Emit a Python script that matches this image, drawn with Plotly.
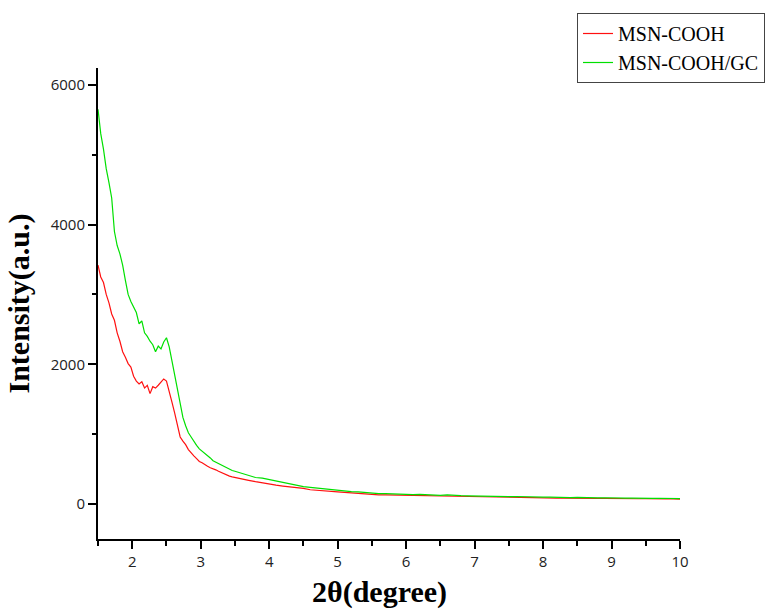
import plotly.graph_objects as go

# 2-theta positions (degree)
x_fine = [1.50, 1.54, 1.58, 1.62, 1.66, 1.70, 1.74, 1.78, 1.82, 1.86, 1.90, 1.94, 1.98,
          2.02, 2.06, 2.10, 2.14, 2.18, 2.22, 2.26, 2.30, 2.34, 2.38, 2.42, 2.46, 2.50,
          2.54, 2.58, 2.62, 2.66, 2.70, 2.74, 2.78, 2.82, 2.86, 2.90, 2.94, 2.98, 3.02,
          3.06, 3.10, 3.14, 3.18, 3.22, 3.26, 3.30, 3.34, 3.38, 3.42, 3.46, 3.50]
x_tail = [3.6, 3.7, 3.8, 3.9, 4.0, 4.1, 4.2, 4.3, 4.4, 4.5, 4.6, 4.7, 4.8, 4.9, 5.0,
          5.1, 5.2, 5.3, 5.4, 5.5, 5.6, 5.7, 5.8, 5.9, 6.0, 6.1, 6.2, 6.3, 6.4, 6.5,
          6.6, 6.7, 6.8, 6.9, 7.0, 7.1, 7.2, 7.3, 7.4, 7.5, 7.6, 7.7, 7.8, 7.9, 8.0,
          8.1, 8.2, 8.3, 8.4, 8.5, 8.6, 8.7, 8.8, 8.9, 9.0, 9.1, 9.2, 9.3, 9.4, 9.5,
          9.6, 9.7, 9.8, 9.9, 10.0]
two_theta = x_fine + x_tail

msn_cooh = [3420, 3250, 3170, 3000, 2880, 2720, 2630, 2450, 2330, 2180, 2100, 2010, 1960,
            1830, 1760, 1720, 1750, 1660, 1700, 1580, 1680, 1660, 1700, 1750, 1790, 1760,
            1620, 1460, 1300, 1120, 960, 900, 850, 780, 730, 690, 650, 610, 590,
            560, 540, 520, 510, 490, 470, 450, 430, 410, 400, 390, 380,
            355, 340, 320, 300, 280, 270, 258, 250, 235, 225, 205, 200, 190, 180, 175,
            168, 160, 150, 145, 138, 132, 130, 128, 125, 122, 120, 118, 115, 118, 112,
            110, 108, 106, 104, 100, 102, 98, 96, 95, 90, 93, 90, 88, 90, 86,
            88, 85, 86, 83, 85, 82, 84, 80, 82, 79, 80, 77, 79, 76, 78,
            74, 76, 73, 75, 72]

msn_cooh_gc = [5650, 5300, 5080, 4800, 4600, 4380, 3900, 3700, 3580, 3420, 3200, 3000, 2900,
               2820, 2740, 2580, 2620, 2450, 2400, 2330, 2280, 2180, 2260, 2220, 2320, 2380,
               2250, 2050, 1850, 1640, 1420, 1240, 1120, 1020, 960, 890, 840, 790, 760,
               720, 690, 660, 620, 600, 580, 560, 530, 520, 500, 480, 470,
               440, 420, 380, 370, 350, 320, 300, 280, 260, 250, 240, 230, 220, 205, 195,
               180, 178, 175, 165, 160, 150, 150, 145, 140, 140, 135, 138, 130, 128, 125,
               130, 122, 120, 118, 115, 112, 115, 110, 108, 106, 108, 104, 100, 102, 98,
               100, 95, 96, 92, 95, 90, 92, 88, 90, 86, 88, 84, 86, 82, 85,
               80, 83, 79, 81, 78]

x_ticks = [2, 3, 4, 5, 6, 7, 8, 9, 10]
y_ticks = [0, 2000, 4000, 6000]

fig = go.Figure()
fig.add_trace(go.Scatter(x=two_theta, y=msn_cooh, mode="lines", name="MSN-COOH",
                         line=dict(color="#FF1010", width=1.2)))
fig.add_trace(go.Scatter(x=two_theta, y=msn_cooh_gc, mode="lines", name="MSN-COOH/GC",
                         line=dict(color="#00E000", width=1.2)))

axis_common = dict(
    showgrid=False, zeroline=False, showline=True, linecolor="black", linewidth=2,
    ticks="outside", ticklen=8, tickwidth=2, tickcolor="black",
    tickfont=dict(family="Open Sans", size=15, color="#222"),
    mirror=False,
)

fig.update_xaxes(range=[1.5, 10], tickvals=x_ticks,
                 minor=dict(dtick=0.5, tick0=1.5, ticks="outside", ticklen=5, tickwidth=2, tickcolor="black"),
                 **axis_common)
fig.update_yaxes(range=[-500, 6240], tickvals=y_ticks,
                 minor=dict(dtick=1000, tick0=0, ticks="outside", ticklen=4, tickwidth=2, tickcolor="black"),
                 title=dict(text="Intensity(a.u.)", font=dict(family="Liberation Serif", size=30, color="black",
                                                               weight="bold"),
                            standoff=12),
                 **axis_common)

fig.add_annotation(text="<b>2θ(degree)</b>", xref="paper", yref="paper", x=0.483, y=-0.112,
                   xanchor="center", yanchor="middle", showarrow=False,
                   font=dict(family="Liberation Serif", size=30, color="black"))

fig.update_layout(
    width=777, height=610,
    margin=dict(l=98, r=97, t=68, b=71, autoexpand=False),
    paper_bgcolor="white", plot_bgcolor="white",
    font=dict(family="Liberation Serif"),
    legend=dict(xref="container", yref="container", x=577 / 777, y=1 - 13 / 610,
                xanchor="left", yanchor="top",
                bordercolor="#444", borderwidth=1, bgcolor="white",
                font=dict(family="Liberation Serif", size=20, color="black"),
                tracegroupgap=0, itemwidth=30),
    showlegend=True,
)

fig.write_html("out.html")
